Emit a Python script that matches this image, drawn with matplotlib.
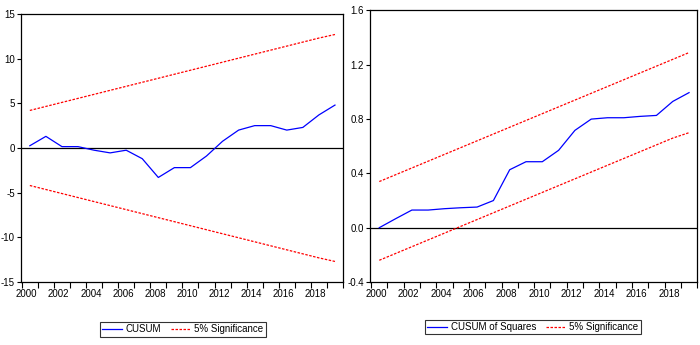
import matplotlib
matplotlib.use('Agg')
import matplotlib.pyplot as plt
import numpy as np

plt.rcParams['font.family'] = ['Liberation Sans Narrow', 'Liberation Sans', 'DejaVu Sans']

# 데이터
years = list(range(2000, 2020))

cusum = [0.25, 1.3, 0.15, 0.15, -0.25, -0.55, -0.25, -1.2, -3.3, -2.2,
         -2.2, -0.9, 0.75, 2.0, 2.5, 2.5, 2.0, 2.3, 3.7, 4.8]
cusum_upper = [4.2, 4.65, 5.1, 5.55, 6.0, 6.45, 6.9, 7.35, 7.8, 8.25,
               8.7, 9.15, 9.6, 10.05, 10.5, 10.95, 11.4, 11.85, 12.3, 12.7]
cusum_lower = [-4.2, -4.65, -5.1, -5.55, -6.0, -6.45, -6.9, -7.35, -7.8, -8.25,
               -8.7, -9.15, -9.6, -10.05, -10.5, -10.95, -11.4, -11.85, -12.3, -12.7]

cusumsq = [0.0, 0.066, 0.13, 0.13, 0.14, 0.147, 0.152, 0.2, 0.427, 0.486,
           0.486, 0.57, 0.717, 0.80, 0.81, 0.81, 0.82, 0.827, 0.93, 0.995]
sq_upper = [0.34, 0.39, 0.44, 0.49, 0.54, 0.59, 0.64, 0.69, 0.74, 0.79,
            0.84, 0.89, 0.94, 0.99, 1.04, 1.09, 1.14, 1.19, 1.24, 1.29]
sq_lower = [-0.24, -0.19, -0.14, -0.09, -0.04, 0.01, 0.06, 0.11, 0.16, 0.21,
            0.26, 0.31, 0.36, 0.41, 0.46, 0.51, 0.56, 0.61, 0.66, 0.70]

left_yticks = [15, 10, 5, 0, -5, -10, -15]
right_yticks = [1.6, 1.2, 0.8, 0.4, 0.0, -0.4]
label_years = list(range(2000, 2020, 2))

fig = plt.figure(figsize=(7, 3.45), dpi=100)
ax1 = fig.add_axes([0.030, 0.1826, 0.460, 0.777])
ax2 = fig.add_axes([0.529, 0.1826, 0.467, 0.787])


def style_axis(ax, yticks, ylim, fmt):
    ax.set_xlim(1999.45, 2019.5)
    ax.set_ylim(*ylim)
    ax.axhline(0, color='black', lw=0.9, zorder=1)
    # 연도 경계마다 눈금, 짝수 연도에 라벨
    ax.set_xticks([y - 0.5 for y in years] + [2019.5])
    ax.set_xticklabels([])
    ax.set_xticks([y - 0.2 for y in label_years], [str(y) for y in label_years], minor=True)
    ax.tick_params(axis='x', which='major', direction='out', length=4, width=0.8)
    ax.tick_params(axis='x', which='minor', length=0, pad=5, labelsize=7)
    ax.set_yticks(yticks, [fmt(v) for v in yticks])
    ax.tick_params(axis='y', direction='out', length=3, width=0.8, pad=1.5, labelsize=7)
    for s in ax.spines.values():
        s.set_linewidth(0.9)


red_dash = dict(color='#ff0000', lw=0.9, linestyle=(0, (2, 1.2)))

ax1.plot(years, cusum, color='blue', lw=0.9, label='CUSUM', zorder=3)
ax1.plot(years, cusum_upper, label='5% Significance', **red_dash)
ax1.plot(years, cusum_lower, **red_dash)
style_axis(ax1, left_yticks, (-15, 15), lambda v: f'{v:d}')

ax2.plot(years, cusumsq, color='blue', lw=0.9, label='CUSUM of Squares', zorder=3)
ax2.plot(years, sq_upper, label='5% Significance', **red_dash)
ax2.plot(years, sq_lower, **red_dash)
style_axis(ax2, right_yticks, (-0.4, 1.6), lambda v: f'{v:.1f}')

# legend 위치 (그림 좌표, 중심)
for ax, anchor in [(ax1, (0.261, 0.046)), (ax2, (0.761, 0.052))]:
    leg = ax.legend(loc='center', bbox_to_anchor=anchor,
                    bbox_transform=fig.transFigure, ncol=2, fontsize=7,
                    frameon=True, fancybox=False, handlelength=2.0,
                    handletextpad=0.4, columnspacing=1.0, borderpad=0.25)
    leg.get_frame().set_edgecolor('black')
    leg.get_frame().set_linewidth(0.8)

fig.savefig('out.png', dpi=100)
